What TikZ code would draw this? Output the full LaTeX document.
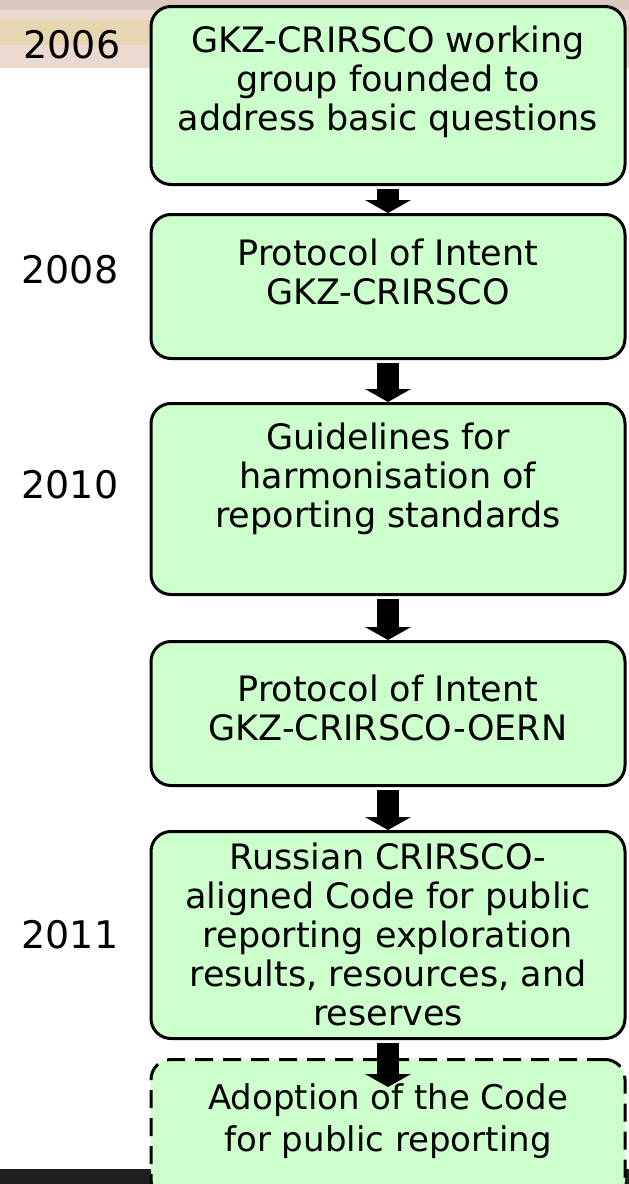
\documentclass[tikz,border=0pt]{standalone}
\usepackage{fontspec}
\setmainfont{DejaVu Sans}
\usetikzlibrary{arrows.meta}

\definecolor{boxgreen}{RGB}{204,255,204}
\definecolor{bandtan}{RGB}{232,214,178}
\definecolor{bandpink}{RGB}{236,218,208}
\definecolor{bandgrey}{RGB}{217,200,189}

\tikzset{
    stage/.style={draw=black, line width=3pt, fill=boxgreen, rounded corners=20pt,
        minimum width=474pt, inner sep=0pt, anchor=north},
    stagetext/.style={align=center, font=\fontsize{35}{39}\selectfont},
    year/.style={font=\fontsize{38}{42}\selectfont},
    flow/.style={line width=22pt, -{Triangle[width=46pt,length=13pt,line width=0pt]}}
}

\begin{document}
\begin{tikzpicture}[x=1pt,y=-1pt]
        \useasboundingbox (0,0) rectangle (629,1184);

        % slide background bands
        \fill[bandgrey] (0,0) rectangle (629,10);
        \fill[bandpink] (0,10) rectangle (629,20);
        \fill[bandtan] (0,20) rectangle (629,45);
        \fill[bandpink] (0,45) rectangle (629,68);
        \fill[black!88] (0,1169) rectangle (629,1184);

        % stages
        \node[stage, minimum height=178pt] (b1) at (388,5) {};
        \node[stage, minimum height=144pt] (b2) at (388,213) {};
        \node[stage, minimum height=191pt] (b3) at (388,402) {};
        \node[stage, minimum height=144pt] (b4) at (388,640) {};
        \node[stage, minimum height=207pt] (b5) at (388,830) {};
        \node[stage, minimum height=140pt, dash pattern=on 18pt off 10pt] (b6) at (388,1058) {};

        \node[stagetext] (t1) at (388,82) {GKZ-CRIRSCO working\\group founded to\\address basic questions};
        \node[stagetext] (t2) at (388,272) {Protocol of Intent\\GKZ-CRIRSCO};
        \node[stagetext] (t3) at (388,479) {Guidelines for\\harmonisation of\\reporting standards};
        \node[stagetext] (t4) at (388,708) {Protocol of Intent\\GKZ-CRIRSCO-OERN};
        \node[stagetext] (t5) at (388,934) {Russian CRIRSCO-\\aligned Code for public\\reporting exploration\\results, resources, and\\reserves};
        \node[stagetext, font=\fontsize{34}{42}\selectfont] (t6) at (388,1121) {Adoption of the Code\\for public reporting};

        % years
        \node[year] (y1) at (72,45) {2006};
        \node[year] (y2) at (70,270) {2008};
        \node[year] (y3) at (70,485) {2010};
        \node[year] (y4) at (70,935) {2011};

        % arrows
        \draw[flow] ([yshift=-3pt]b1.south) -- (b2.north);
        \draw[flow] ([yshift=-3pt]b2.south) -- (b3.north);
        \draw[flow] ([yshift=-3pt]b3.south) -- (b4.north);
        \draw[flow] ([yshift=-3pt]b4.south) -- (b5.north);
        \draw[flow] ([yshift=-3pt]b5.south) -- ([yshift=-29pt]b6.north);

\end{tikzpicture}
\end{document}
